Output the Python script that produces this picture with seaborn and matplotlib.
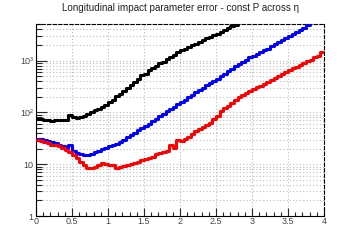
import numpy as np
import pandas as pd
import seaborn as sns
import matplotlib.pyplot as plt
from matplotlib.ticker import FixedLocator, FixedFormatter, MultipleLocator, FormatStrFormatter

# eta bins, width 0.05
step = 0.05

black_vals = [75, 74, 72, 71, 69, 70, 71, 70, 72, 88, 80, 79, 81, 86, 92, 100, 112, 118, 125, 140,
              160, 175, 205, 230, 265, 300, 340, 390, 450, 520, 560, 650, 720, 800, 900, 960, 1080,
              1180, 1300, 1450, 1580, 1700, 1800, 2000, 2100, 2250, 2450, 2700, 2900, 3100, 3300,
              3650, 3900, 4300, 4600, 4800]

blue_vals = [31, 31, 30, 28, 27, 25.5, 24, 22.5, 21, 23, 18, 16.5, 15.5, 15, 15.3, 16, 17, 18, 19.5,
             21, 22, 23.5, 25, 27, 30, 33, 36, 40, 45, 50, 55, 61, 68, 76, 85, 94, 105, 117, 130,
             145, 160, 176, 195, 220, 245, 270, 300, 335, 370, 410, 450, 500, 560, 630, 700, 780,
             870, 950, 1050, 1150, 1250, 1350, 1450, 1580, 1700, 1900, 2100, 2300, 2500, 2750, 3000,
             3250, 3500, 3900, 4300, 4800]

red_vals = [29.5, 28.5, 27, 25.5, 24, 23, 22, 20.5, 19, 17.5, 15, 13, 11, 9.5, 8.5, 8.6, 9, 9.8,
            10.5, 10.2, 9.8, 9.5, 8.3, 9, 9.2, 9.6, 10, 10.5, 11, 11.8, 12.5, 13.2, 14, 15.5, 16.5,
            17.5, 18, 24, 21, 30, 28, 31, 33, 38, 44, 48, 52, 58, 62, 75, 85, 105, 120, 135, 150,
            175, 200, 215, 235, 255, 280, 305, 330, 360, 390, 420, 460, 500, 550, 600, 650, 710,
            770, 830, 900, 970, 1050, 1150, 1250, 1450]

y_ticks = [1, 10, 100, 1000]
y_labels = ["1", "10", "10²", "10³"]


def as_steps(vals):
    # histogram bins -> step line (repeat last value at the right edge)
    x = np.round(np.arange(len(vals) + 1) * step, 3)
    y = list(vals) + [vals[-1]]
    return pd.DataFrame({"eta": x, "err": y})


sns.set_style("ticks")
plt.rcParams["font.family"] = ["Liberation Sans", "DejaVu Sans"]

fig = plt.figure(figsize=(3.6, 2.4), dpi=100)
ax = fig.add_axes([0.1, 0.1, 0.8, 0.8])

for vals, col in [(black_vals, "black"), (blue_vals, "blue"), (red_vals, "red")]:
    sns.lineplot(data=as_steps(vals), x="eta", y="err", color=col, linewidth=2.2,
                 drawstyle="steps-post", ax=ax, zorder=3)

ax.set_yscale("log")
ax.set_xlim(0, 4)
ax.set_ylim(1, 5100)
ax.set_xlabel("")
ax.set_ylabel("")

ax.xaxis.set_major_locator(MultipleLocator(0.5))
ax.xaxis.set_minor_locator(MultipleLocator(0.1))
ax.xaxis.set_major_formatter(FormatStrFormatter("%g"))
ax.yaxis.set_major_locator(FixedLocator(y_ticks))
ax.yaxis.set_major_formatter(FixedFormatter(y_labels))

ax.tick_params(which="both", direction="in", top=False, right=False, labelsize=6.5,
               labelcolor="#444444", width=0.8)
ax.tick_params(axis="x", which="major", length=6, pad=1)
ax.tick_params(axis="x", which="minor", length=3)
ax.tick_params(axis="y", which="major", length=8, pad=2)
ax.tick_params(axis="y", which="minor", length=4)

ax.grid(True, axis="x", which="major", color="#bbbbbb", linestyle=(0, (1, 2)), linewidth=0.8)
ax.grid(True, axis="y", which="both", color="#bbbbbb", linestyle=(0, (1, 2)), linewidth=0.8)

for side in ["top", "right"]:
    ax.spines[side].set_linestyle((0, (3, 2)))
for s in ax.spines.values():
    s.set_linewidth(0.8)
    s.set_color("black")

fig.text(0.5, 0.965, "Longitudinal impact parameter error - const P across η",
         ha="center", va="center", fontsize=7.1, color="#222222")

fig.savefig("out.png", dpi=100)
